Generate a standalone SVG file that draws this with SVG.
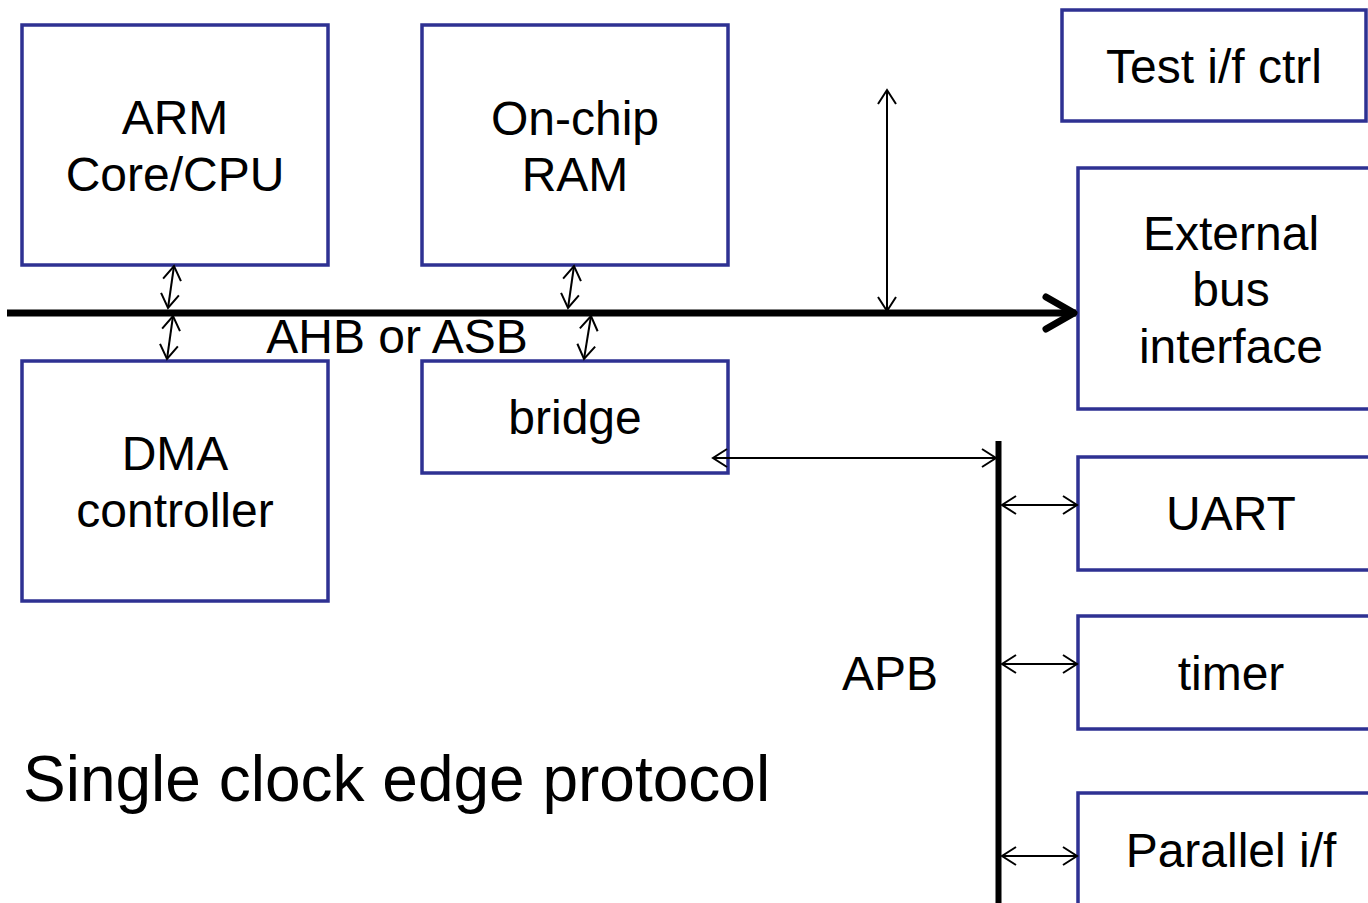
<svg xmlns="http://www.w3.org/2000/svg" width="1368" height="903" viewBox="0 0 1368 903">
<style>
.box{fill:#fff;stroke:#2E3192;stroke-width:3.5}
.t{font-family:"Liberation Sans",Arial,sans-serif;font-size:48px;fill:#000;text-anchor:middle}
.c{stroke:#000;stroke-width:2;fill:none}
</style>
<defs>
<marker id="ah" markerUnits="userSpaceOnUse" markerWidth="30" markerHeight="30" refX="15" refY="15" orient="auto-start-reverse" viewBox="0 0 30 30">
<path d="M1,6 L15,15 L1,24" fill="none" stroke="#000" stroke-width="2"/>
</marker>
<marker id="big" markerUnits="userSpaceOnUse" markerWidth="50" markerHeight="50" refX="40" refY="25" orient="auto" viewBox="0 0 50 50">
<path d="M10,9 L38,25 L10,41" fill="none" stroke="#000" stroke-width="7" stroke-linecap="round" stroke-linejoin="round"/>
</marker>
</defs>
<rect width="1368" height="903" fill="#fff"/>
<g id="arm"><rect class="box" x="22" y="25" width="306" height="240"/><text class="t" x="175" y="134">ARM</text><text class="t" x="175" y="191">Core/CPU</text></g>
<g id="ram"><rect class="box" x="422" y="25" width="306" height="240"/><text class="t" x="575" y="135">On-chip</text><text class="t" x="575" y="191">RAM</text></g>
<g id="dma"><rect class="box" x="22" y="361" width="306" height="240"/><text class="t" x="175" y="470">DMA</text><text class="t" x="175" y="527">controller</text></g>
<g id="bridge"><rect class="box" x="422" y="361" width="306" height="112"/><text class="t" x="575" y="434">bridge</text></g>
<g id="test"><rect class="box" x="1062" y="10" width="304" height="111"/><text class="t" x="1214" y="83">Test i/f ctrl</text></g>
<g id="ext"><rect class="box" x="1078" y="168" width="300" height="241"/><text class="t" x="1231" y="250">External</text><text class="t" x="1231" y="306">bus</text><text class="t" x="1231" y="363">interface</text></g>
<g id="uart"><rect class="box" x="1078" y="457" width="300" height="113"/><text class="t" x="1231" y="530">UART</text></g>
<g id="timer"><rect class="box" x="1078" y="616" width="300" height="113"/><text class="t" x="1231" y="690">timer</text></g>
<g id="par"><rect class="box" x="1078" y="793" width="300" height="130"/><text class="t" x="1231" y="867">Parallel i/f</text></g>
<g id="connectors">
<line x1="7" y1="313" x2="1076" y2="313" stroke="#000" stroke-width="7" marker-end="url(#big)"/>
<line x1="998.5" y1="441" x2="998.5" y2="903" stroke="#000" stroke-width="6"/>
<line class="c" x1="174" y1="266" x2="168" y2="308" marker-start="url(#ah)" marker-end="url(#ah)"/>
<line class="c" x1="173" y1="316" x2="167" y2="359" marker-start="url(#ah)" marker-end="url(#ah)"/>
<line class="c" x1="574" y1="266" x2="568" y2="308" marker-start="url(#ah)" marker-end="url(#ah)"/>
<line class="c" x1="591" y1="316" x2="584" y2="359" marker-start="url(#ah)" marker-end="url(#ah)"/>
<line class="c" x1="887" y1="90" x2="887" y2="311" marker-start="url(#ah)" marker-end="url(#ah)"/>
<line class="c" x1="713" y1="458" x2="996" y2="458" marker-start="url(#ah)" marker-end="url(#ah)"/>
<line class="c" x1="1002" y1="505" x2="1077" y2="505" marker-start="url(#ah)" marker-end="url(#ah)"/>
<line class="c" x1="1002" y1="664" x2="1077" y2="664" marker-start="url(#ah)" marker-end="url(#ah)"/>
<line class="c" x1="1002" y1="856" x2="1077" y2="856" marker-start="url(#ah)" marker-end="url(#ah)"/>
</g>
<g id="labels">
<text class="t" x="397" y="353">AHB or ASB</text>
<text class="t" x="890" y="690">APB</text>
<text x="23" y="801" style="font-family:'Liberation Sans',Arial,sans-serif;font-size:64px;fill:#000">Single clock edge protocol</text>
</g>
</svg>
